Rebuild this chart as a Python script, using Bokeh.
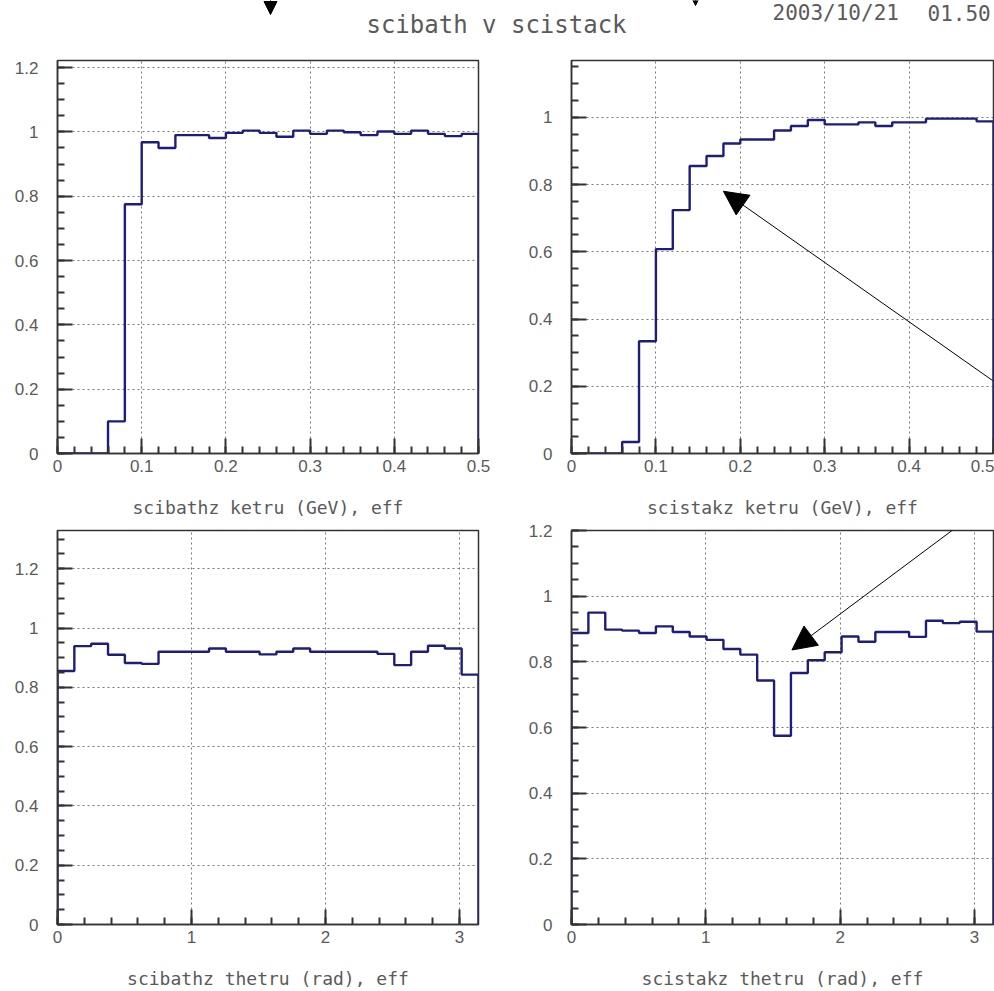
import numpy as np
from bokeh.plotting import figure
from bokeh.layouts import column, row
from bokeh.models import Range1d, FixedTicker, Arrow, NormalHead
from bokeh.core.properties import value
from bokeh.embed import file_html
from bokeh.resources import INLINE

# ---------------- data ----------------
TITLE = "scibath v scistack"
DATE_DAY = "2003/10/21"
DATE_TIME = "01.50"

ke_edges = np.linspace(0.0, 0.5, 26)        # 25 bins, GeV
theta_edges = np.linspace(0.0, np.pi, 26)   # 25 bins, rad

scibath_ke_eff = [0.0, 0.0, 0.0, 0.10, 0.775, 0.968, 0.950, 0.990, 0.990, 0.981,
                  0.997, 1.004, 0.997, 0.985, 1.004, 0.994, 1.004, 0.999, 0.990,
                  1.001, 0.994, 1.004, 0.994, 0.987, 0.994]
scistack_ke_eff = [0.0, 0.0, 0.0, 0.034, 0.334, 0.608, 0.724, 0.855, 0.885, 0.922,
                   0.934, 0.934, 0.961, 0.974, 0.992, 0.979, 0.979, 0.985, 0.974,
                   0.985, 0.985, 0.996, 0.996, 0.996, 0.988]
scibath_theta_eff = [0.855, 0.939, 0.947, 0.910, 0.882, 0.879, 0.920, 0.920, 0.920,
                     0.931, 0.920, 0.920, 0.911, 0.920, 0.931, 0.920, 0.920, 0.920,
                     0.920, 0.913, 0.875, 0.920, 0.940, 0.931, 0.843]
scistack_theta_eff = [0.888, 0.950, 0.898, 0.895, 0.888, 0.908, 0.891, 0.877, 0.867,
                      0.839, 0.822, 0.743, 0.575, 0.766, 0.805, 0.829, 0.877, 0.861,
                      0.891, 0.891, 0.876, 0.925, 0.918, 0.922, 0.892]

ke_ticks = [0.0, 0.1, 0.2, 0.3, 0.4, 0.5]
ke_tick_labels = ["0", "0.1", "0.2", "0.3", "0.4", "0.5"]
theta_ticks = [0.0, 1.0, 2.0, 3.0]
theta_tick_labels = ["0", "1", "2", "3"]
eff_ticks = [0.0, 0.2, 0.4, 0.6, 0.8, 1.0, 1.2]
eff_tick_labels = ["0", "0.2", "0.4", "0.6", "0.8", "1", "1.2"]

x_titles = ["scibathz ketru (GeV), eff", "scistakz ketru (GeV), eff",
            "scibathz thetru (rad), eff", "scistakz thetru (rad), eff"]

# ---------------- style ----------------
LINE_COL = "#1e1e7a"
TXT_COL = "#5a5a5a"
AX_COL = "#333333"
MONO = "DejaVu Sans Mono"
SANS = "Liberation Sans"


def hist_panel(edges, vals, xr, yr, xticks, xlabels, xminor, yticks, ylabels, yminor,
               xtitle, width, height, bl, br, bt, bb):
    p = figure(width=width, height=height, x_range=Range1d(*xr), y_range=Range1d(*yr),
               output_backend="svg", toolbar_location=None, tools="")
    p.min_border_left, p.min_border_right = bl, br
    p.min_border_top, p.min_border_bottom = bt, bb
    p.background_fill_color = "white"
    p.border_fill_color = "white"
    p.outline_line_color = AX_COL
    p.outline_line_width = 1.5

    xs = np.repeat(np.asarray(edges), 2)
    ys = np.concatenate([[0.0], np.repeat(np.asarray(vals, dtype=float), 2), [0.0]])
    p.line(xs, ys, line_color=LINE_COL, line_width=2.4)

    for ax, ticks, labels, minor in ((p.xaxis[0], xticks, xlabels, xminor),
                                     (p.yaxis[0], yticks, ylabels, yminor)):
        ax.ticker = FixedTicker(ticks=ticks, minor_ticks=minor)
        ax.major_label_overrides = {t: l for t, l in zip(ticks, labels)}
        ax.major_tick_in, ax.major_tick_out = 15, 0
        ax.minor_tick_in, ax.minor_tick_out = 7, 0
        ax.major_tick_line_width = 2
        ax.minor_tick_line_width = 2
        ax.major_tick_line_color = AX_COL
        ax.minor_tick_line_color = AX_COL
        ax.axis_line_color = AX_COL
        ax.axis_line_width = 1.5
        ax.major_label_text_font = SANS
        ax.major_label_text_font_size = "17px"
        ax.major_label_text_color = TXT_COL
    p.xaxis.major_label_standoff = 6
    p.yaxis.major_label_standoff = 19
    p.xaxis.axis_label = xtitle
    p.xaxis.axis_label_text_font = MONO
    p.xaxis.axis_label_text_font_size = "18px"
    p.xaxis.axis_label_text_font_style = "normal"
    p.xaxis.axis_label_text_color = TXT_COL
    p.xaxis.axis_label_standoff = 22

    p.xgrid.ticker = FixedTicker(ticks=xticks)
    p.ygrid.ticker = FixedTicker(ticks=yticks)
    for g in (p.xgrid[0], p.ygrid[0]):
        g.grid_line_color = "#7a7a7a"
        g.grid_line_dash = "2 3"
        g.grid_line_width = 1
    return p


ke_minor = [round(0.02 * i, 2) for i in range(26)]
th_minor = [round(0.2 * i, 1) for i in range(16)]
eff_minor = [round(0.05 * i, 2) for i in range(27)]

LW, RW = 515, 479
TOP_H, BOT_H = 480, 471

p1 = hist_panel(ke_edges, scibath_ke_eff, (0, 0.5), (0, 1.222), ke_ticks, ke_tick_labels,
                ke_minor, eff_ticks, eff_tick_labels, eff_minor, x_titles[0],
                LW, TOP_H, 57, 37, 20, 67)
p2 = hist_panel(ke_edges, scistack_ke_eff, (0, 0.5), (0, 1.169), ke_ticks, ke_tick_labels,
                ke_minor, eff_ticks[:6], eff_tick_labels[:6], eff_minor, x_titles[1],
                RW, TOP_H, 56, 1, 20, 67)
p3 = hist_panel(theta_edges, scibath_theta_eff, (0, np.pi), (0, 1.329), theta_ticks,
                theta_tick_labels, th_minor, eff_ticks, eff_tick_labels, eff_minor,
                x_titles[2], LW, BOT_H, 57, 37, 10, 67)
p4 = hist_panel(theta_edges, scistack_theta_eff, (0, np.pi), (0, 1.2), theta_ticks,
                theta_tick_labels, th_minor, eff_ticks, eff_tick_labels, eff_minor,
                x_titles[3], RW, BOT_H, 56, 1, 10, 67)

# annotation arrows (pointing at the features of the scistack curves)
head = dict(size=24, fill_color="black", line_color="black")
p2.add_layout(Arrow(end=NormalHead(**head), x_start=0.499, y_start=0.217,
                    x_end=0.180, y_end=0.780, line_color="black", line_width=1))
p4.add_layout(Arrow(end=NormalHead(**head), x_start=2.936, y_start=1.2315,
                    x_end=1.641, y_end=0.836, line_color="black", line_width=1))

# header with title and date
hdr = figure(width=994, height=40, x_range=Range1d(0, 994), y_range=Range1d(40, 0),
             x_axis_type=None, y_axis_type=None, output_backend="svg",
             toolbar_location=None, tools="", min_border=0)
hdr.outline_line_color = None
hdr.background_fill_color = "white"
hdr.text(x=[496], y=[24], text=[TITLE], text_font=value(MONO), text_font_size="24px",
         text_align="center", text_baseline="middle", text_color=TXT_COL)
hdr.text(x=[772, 927], y=[12, 12], text=[DATE_DAY, DATE_TIME], text_font=value(MONO),
         text_font_size="21px", text_align="left", text_baseline="middle",
         text_color=TXT_COL)
small_head = dict(size=13, fill_color="black", line_color="black")
hdr.add_layout(Arrow(end=NormalHead(**small_head), x_start=270, y_start=-20,
                     x_end=270, y_end=14, line_color="black", line_width=1))
hdr.add_layout(Arrow(end=NormalHead(**small_head), x_start=695, y_start=-20,
                     x_end=695, y_end=5, line_color="black", line_width=1))

layout = column(hdr, row(p1, p2, spacing=0), row(p3, p4, spacing=0), spacing=0)

open("out.html", "w").write(file_html(layout, INLINE))
